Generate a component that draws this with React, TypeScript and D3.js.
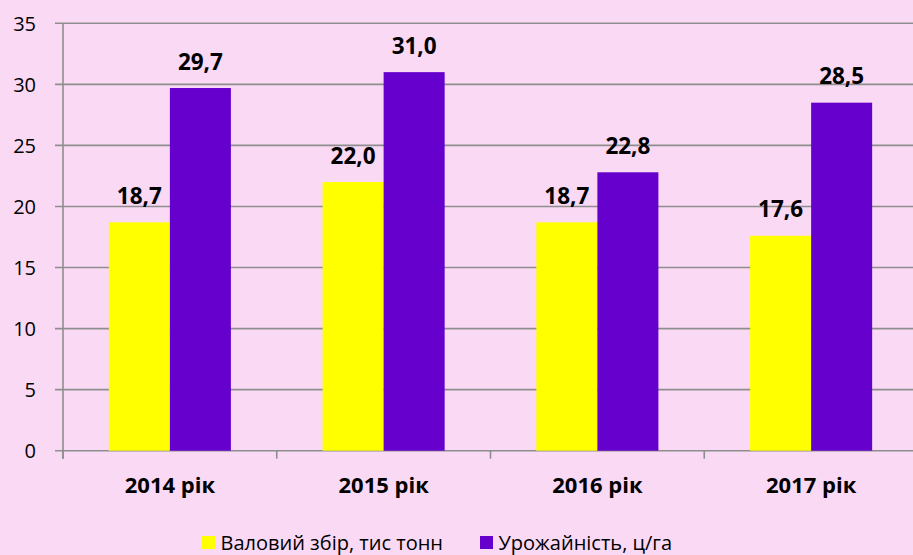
import React from "react";
import * as d3 from "d3";

const categories = ["2014 рік", "2015 рік", "2016 рік", "2017 рік"];
const seriesNames = ["Валовий збір, тис тонн", "Урожайність, ц/га"];
const grossHarvest = [18.7, 22.0, 18.7, 17.6];
const yieldPerHa = [29.7, 31.0, 22.8, 28.5];
const yTicks = [0, 5, 10, 15, 20, 25, 30, 35];
const colors = ["#FFFF00", "#6600CC"];

const W = 913;
const H = 555;
const left = 63;
const right = 918;
const top = 23.3;
const bottom = 450.7;
const font = "'Open Sans', 'Noto Sans', sans-serif";

export default function App() {
  const x = d3.scaleBand<string>().domain(categories).range([left, right]).paddingInner(0).paddingOuter(0);
  const y = d3.scaleLinear().domain([0, 35]).range([bottom, top]);
  const barW = x.bandwidth() * 0.2855;
  const series = [grossHarvest, yieldPerHa];
  const fmt = (v: number) => v.toFixed(1).replace(".", ",");
  const grid = "#8E8E8E";

  return (
    <svg
      width={W}
      height={H}
      style={{ position: "absolute", left: 0, top: 0, display: "block" }}
      fontFamily={font}
    >
      <rect x={0} y={0} width={W} height={H} fill="#FAD9F5" />
      {yTicks.map((t) => (
        <g key={t}>
          <line x1={55} x2={right} y1={y(t)} y2={y(t)} stroke={grid} strokeWidth={1.6} />
          <text x={36} y={y(t) + 7.5} textAnchor="end" fontSize={20} fill="#000">
            {t}
          </text>
        </g>
      ))}
      <line x1={left} x2={left} y1={top} y2={bottom + 8} stroke={grid} strokeWidth={1.6} />
      {categories.map((c, i) => (
        <line key={"t" + i} x1={x(c)!} x2={x(c)!} y1={bottom} y2={bottom + 8} stroke={grid} strokeWidth={1.6} />
      ))}
      {categories.map((c, i) => {
        const cx = x(c)! + x.bandwidth() / 2;
        return (
          <g key={c}>
            {series.map((s, k) => {
              const bx = cx - barW + k * barW;
              return (
                <g key={k}>
                  <rect x={bx} y={y(s[i])} width={barW} height={bottom - y(s[i])} fill={colors[k]} />
                  <text
                    x={bx + barW / 2}
                    y={y(s[i]) - 18.5}
                    textAnchor="middle"
                    fontSize={22.5}
                    fontWeight="bold"
                    fill="#000"
                  >
                    {fmt(s[i])}
                  </text>
                </g>
              );
            })}
            <text x={cx} y={493} textAnchor="middle" fontSize={22} fontWeight="bold" fill="#000">
              {c}
            </text>
          </g>
        );
      })}
      {seriesNames.map((n, k) => {
        const lx = k === 0 ? 202 : 480;
        return (
          <g key={n}>
            <rect x={lx} y={536} width={13} height={13} fill={colors[k]} />
            <text x={lx + 18.5} y={550} fontSize={20} fill="#000">
              {n}
            </text>
          </g>
        );
      })}
    </svg>
  );
}
